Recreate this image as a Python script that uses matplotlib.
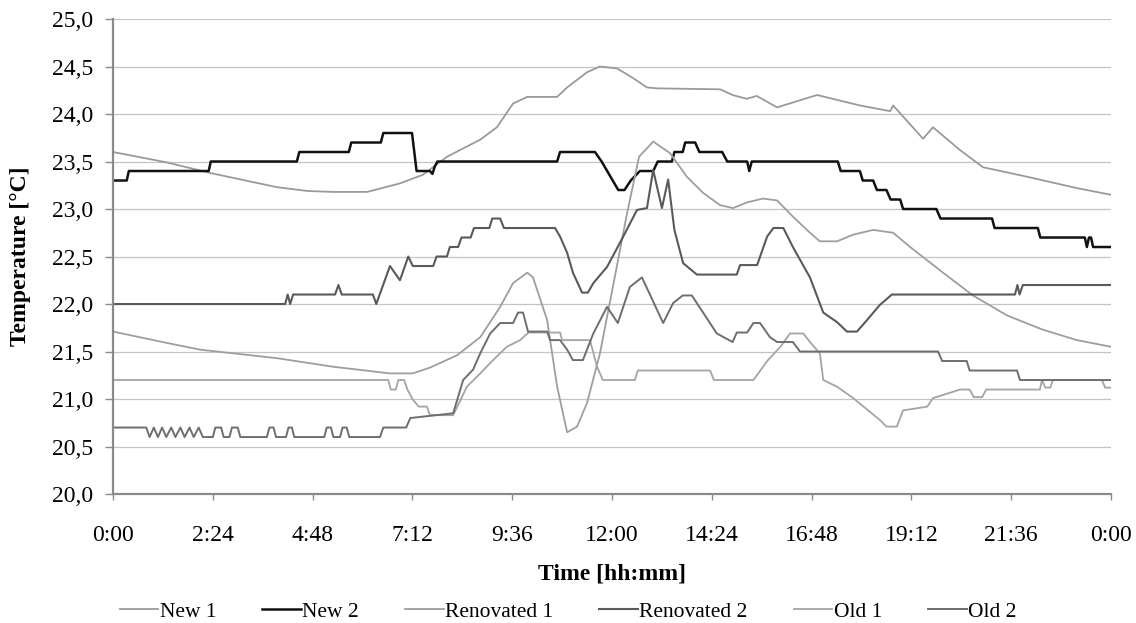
import numpy as np
import matplotlib
matplotlib.use("Agg")
import matplotlib.pyplot as plt

plt.rcParams["font.family"] = ["Liberation Serif", "DejaVu Serif"]

# time in hours (0-24), temperature in °C
new1_t = [0.0, 1.3, 2.33, 3.94, 4.67, 5.29, 6.11, 6.9, 7.45, 8.03, 8.83, 9.23, 9.62, 9.96,
          10.68, 10.92, 11.4, 11.71, 12.12, 12.5, 12.84, 13.08, 14.6, 14.9, 15.24, 15.48,
          15.97, 16.93, 17.96, 18.69, 18.76, 19.48, 19.72, 20.37, 20.92, 21.98, 23.18, 24.0]
new1_v = [23.6, 23.49, 23.38, 23.23, 23.19, 23.18, 23.18, 23.27, 23.36, 23.55, 23.73, 23.86,
          24.11, 24.18, 24.18, 24.28, 24.44, 24.5, 24.48, 24.38, 24.28, 24.27, 24.26, 24.2,
          24.16, 24.19, 24.07, 24.2, 24.09, 24.03, 24.09, 23.74, 23.86, 23.62, 23.44, 23.34,
          23.22, 23.15]

new2_t = [0.0, 0.33, 0.38, 2.3, 2.35, 4.42, 4.48, 5.67, 5.73, 6.44, 6.5, 7.19, 7.3, 7.62,
          7.68, 7.74, 7.8, 10.68, 10.75, 11.59, 11.75, 11.95, 12.15, 12.3, 12.45, 12.67,
          12.99, 13.1, 13.44, 13.5, 13.7, 13.76, 14.0, 14.1, 14.65, 14.77, 15.25, 15.3,
          15.36, 17.43, 17.5, 17.96, 18.03, 18.28, 18.37, 18.6, 18.7, 18.93, 19.0, 19.8,
          19.9, 21.14, 21.2, 22.24, 22.3, 23.37, 23.42, 23.47, 23.52, 23.57, 24.0]
new2_v = [23.3, 23.3, 23.4, 23.4, 23.5, 23.5, 23.6, 23.6, 23.7, 23.7, 23.8, 23.8, 23.4, 23.4,
          23.37, 23.45, 23.5, 23.5, 23.6, 23.6, 23.5, 23.35, 23.2, 23.2, 23.3, 23.4, 23.4,
          23.5, 23.5, 23.6, 23.6, 23.7, 23.7, 23.6, 23.6, 23.5, 23.5, 23.4, 23.5, 23.5,
          23.4, 23.4, 23.3, 23.3, 23.2, 23.2, 23.1, 23.1, 23.0, 23.0, 22.9, 22.9, 22.8,
          22.8, 22.7, 22.7, 22.6, 22.7, 22.7, 22.6, 22.6]

ren1_t = [0.0, 1.3, 2.09, 3.94, 5.29, 6.66, 7.21, 7.62, 8.27, 8.83, 9.31, 9.62, 9.96, 10.1,
          10.44, 10.68, 10.92, 11.16, 11.4, 11.71, 12.02, 12.36, 12.65, 12.99, 13.39, 13.8,
          14.19, 14.6, 14.91, 15.25, 15.63, 15.97, 16.35, 16.76, 17.0, 17.41, 17.8, 18.28,
          18.76, 19.17, 19.96, 20.68, 21.5, 22.36, 23.18, 24.0]
ren1_v = [21.71, 21.59, 21.52, 21.43, 21.34, 21.27, 21.27, 21.33, 21.46, 21.65, 21.97, 22.22,
          22.33, 22.28, 21.83, 21.13, 20.65, 20.71, 20.96, 21.48, 22.18, 22.95, 23.55, 23.71,
          23.59, 23.34, 23.17, 23.04, 23.01, 23.07, 23.11, 23.09, 22.92, 22.75, 22.66, 22.66,
          22.73, 22.78, 22.75, 22.6, 22.33, 22.09, 21.88, 21.73, 21.62, 21.55]

ren2_t = [0.0, 4.14, 4.2, 4.26, 4.33, 5.34, 5.42, 5.5, 6.25, 6.33, 6.66, 6.9, 7.1, 7.21, 7.7,
          7.78, 8.03, 8.1, 8.3, 8.38, 8.6, 8.68, 9.05, 9.12, 9.31, 9.4, 10.63, 10.75, 10.92,
          11.06, 11.28, 11.42, 11.55, 11.88, 12.27, 12.6, 12.84, 12.99, 13.2, 13.35, 13.5,
          13.71, 14.04, 15.0, 15.08, 15.49, 15.73, 15.88, 16.12, 16.35, 16.76, 17.08, 17.41,
          17.65, 17.89, 18.13, 18.44, 18.73, 21.69, 21.75, 21.8, 21.88, 24.0]
ren2_v = [22.0, 22.0, 22.1, 22.0, 22.1, 22.1, 22.2, 22.1, 22.1, 22.0, 22.4, 22.25, 22.5, 22.4,
          22.4, 22.5, 22.5, 22.6, 22.6, 22.7, 22.7, 22.8, 22.8, 22.9, 22.9, 22.8, 22.8, 22.71,
          22.54, 22.33, 22.12, 22.12, 22.22, 22.39, 22.71, 22.99, 23.01, 23.41, 23.01, 23.31,
          22.78, 22.43, 22.31, 22.31, 22.41, 22.41, 22.71, 22.8, 22.8, 22.6, 22.28, 21.91,
          21.81, 21.71, 21.71, 21.83, 21.99, 22.1, 22.1, 22.2, 22.1, 22.2, 22.2]

old1_t = [0.0, 6.62, 6.68, 6.8, 6.86, 7.0, 7.08, 7.2, 7.35, 7.55, 7.62, 8.18, 8.51, 8.83,
          9.14, 9.47, 9.79, 9.99, 10.75, 10.8, 11.47, 11.64, 11.78, 12.55, 12.62, 14.36,
          14.45, 15.4, 15.75, 16.05, 16.28, 16.6, 16.76, 17.0, 17.08, 17.41, 17.8, 18.44,
          18.6, 18.85, 19.0, 19.58, 19.72, 20.37, 20.6, 20.7, 20.9, 21.0, 22.29, 22.34,
          22.42, 22.54, 22.6, 23.78, 23.86, 24.0]
old1_v = [21.2, 21.2, 21.1, 21.1, 21.2, 21.2, 21.1, 21.0, 20.92, 20.92, 20.83, 20.83, 21.13,
          21.27, 21.41, 21.55, 21.62, 21.7, 21.7, 21.62, 21.62, 21.34, 21.2, 21.2, 21.3, 21.3,
          21.2, 21.2, 21.41, 21.55, 21.69, 21.69, 21.6, 21.48, 21.2, 21.13, 21.01, 20.78,
          20.71, 20.71, 20.88, 20.92, 21.01, 21.1, 21.1, 21.02, 21.02, 21.1, 21.1, 21.2,
          21.12, 21.12, 21.2, 21.2, 21.12, 21.12]

old2_t = [0.0, 0.8, 0.88, 0.98, 1.08, 1.18, 1.28, 1.4, 1.5, 1.62, 1.72, 1.84, 1.94, 2.06,
          2.16, 2.4, 2.46, 2.6, 2.66, 2.8, 2.86, 3.0, 3.06, 3.7, 3.76, 3.86, 3.92, 4.16, 4.22,
          4.3, 4.36, 5.08, 5.14, 5.24, 5.3, 5.46, 5.52, 5.62, 5.68, 6.42, 6.5, 7.05, 7.15,
          8.18, 8.42, 8.66, 8.83, 9.07, 9.31, 9.62, 9.74, 9.86, 9.98, 10.44, 10.51, 10.75,
          10.92, 11.06, 11.3, 11.55, 11.88, 12.14, 12.43, 12.72, 13.23, 13.47, 13.7, 13.92,
          14.19, 14.52, 14.9, 15.0, 15.25, 15.4, 15.56, 15.8, 15.97, 16.35, 16.52, 19.84,
          19.94, 20.53, 20.6, 21.74, 21.81, 24.0]
old2_v = [20.7, 20.7, 20.6, 20.7, 20.6, 20.7, 20.6, 20.7, 20.6, 20.7, 20.6, 20.7, 20.6, 20.7,
          20.6, 20.6, 20.7, 20.7, 20.6, 20.6, 20.7, 20.7, 20.6, 20.6, 20.7, 20.7, 20.6, 20.6,
          20.7, 20.7, 20.6, 20.6, 20.7, 20.7, 20.6, 20.6, 20.7, 20.7, 20.6, 20.6, 20.7, 20.7,
          20.8, 20.85, 21.2, 21.31, 21.48, 21.69, 21.8, 21.8, 21.91, 21.91, 21.71, 21.71,
          21.62, 21.62, 21.52, 21.41, 21.41, 21.69, 21.97, 21.8, 22.18, 22.28, 21.8, 22.01,
          22.09, 22.09, 21.91, 21.69, 21.6, 21.7, 21.7, 21.8, 21.8, 21.65, 21.6, 21.6, 21.5,
          21.5, 21.4, 21.4, 21.3, 21.3, 21.2, 21.2]

x_ticks = [0, 2.4, 4.8, 7.2, 9.6, 12, 14.4, 16.8, 19.2, 21.6, 24]
x_labels = ["0:00", "2:24", "4:48", "7:12", "9:36", "12:00", "14:24", "16:48", "19:12",
            "21:36", "0:00"]
y_ticks = [20.0, 20.5, 21.0, 21.5, 22.0, 22.5, 23.0, 23.5, 24.0, 24.5, 25.0]

fig = plt.figure(figsize=(11.36, 6.23), dpi=100)
ax = fig.add_axes([0.0995, 0.207, 0.8785, 0.7625])

ax.plot(new1_t, new1_v, color="#9a9a9a", lw=1.3, label="New 1")
ax.plot(new2_t, new2_v, color="#111111", lw=1.8, label="New 2")
ax.plot(ren1_t, ren1_v, color="#9e9e9e", lw=1.3, label="Renovated 1")
ax.plot(ren2_t, ren2_v, color="#5a5a5a", lw=1.5, label="Renovated 2")
ax.plot(old1_t, old1_v, color="#a4a4a4", lw=1.3, label="Old 1")
ax.plot(old2_t, old2_v, color="#6e6e6e", lw=1.4, label="Old 2")

ax.set_xlim(0, 24)
ax.set_ylim(20, 25)
ax.set_xticks(x_ticks)
ax.set_xticklabels(x_labels)
ax.set_yticks(y_ticks)
ax.set_yticklabels([f"{v:.1f}".replace(".", ",") for v in y_ticks])

ax.grid(axis="y", color="#c4c4c4", lw=0.9)
ax.set_axisbelow(True)
for s in ["top", "right"]:
    ax.spines[s].set_visible(False)
for s in ["left", "bottom"]:
    ax.spines[s].set_color("#8a8a8a")
    ax.spines[s].set_linewidth(1.6)

ax.tick_params(axis="y", direction="out", length=6, width=1, color="#8a8a8a",
               labelsize=17, pad=8)
ax.tick_params(axis="x", direction="out", length=4, width=1, color="#8a8a8a",
               labelsize=17, pad=18)

ax.set_xlabel("Time [hh:mm]", fontsize=17, fontweight="bold")
ax.set_ylabel("Temperature [°C]", fontsize=17, fontweight="bold")
ax.xaxis.set_label_coords(0.5, -0.147)
ax.yaxis.set_label_coords(-0.082, 0.5)

fig.legend(loc="center", bbox_to_anchor=(0.5, 0.018), ncol=6, frameon=False,
           fontsize=15.5, handlelength=1.8, handletextpad=0.05, columnspacing=2.15)

fig.savefig("out.png", dpi=100)
